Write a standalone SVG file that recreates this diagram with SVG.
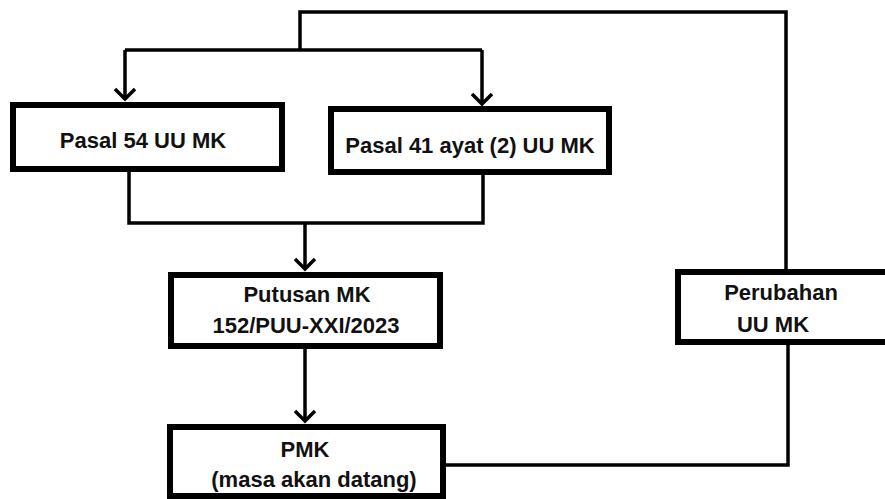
<svg xmlns="http://www.w3.org/2000/svg" width="885" height="499" viewBox="0 0 885 499">
<style>
.box{fill:#fff;stroke:#000;stroke-width:6}
.lbl{font-family:"Liberation Sans",Arial,sans-serif;font-weight:bold;font-size:22px;fill:#111;text-anchor:middle}
.con{fill:none;stroke:#000;stroke-width:3.5;stroke-linejoin:miter}
</style>
<defs>
<marker id="arr" markerUnits="userSpaceOnUse" markerWidth="24" markerHeight="24" viewBox="-14 -12 16 24" refX="0" refY="0" orient="auto" overflow="visible">
<path d="M-10,-10 L0,0 L-10,10" fill="none" stroke="#000" stroke-width="3.5"/>
</marker>
</defs>
<rect width="885" height="499" fill="#fff"/>
<g id="connectors">
<path class="con" d="M300,50 V12 H786 V269"/>
<path class="con" d="M125,50 H482"/>
<path class="con" d="M125,50 V99" marker-end="url(#arr)"/>
<path class="con" d="M482,50 V104" marker-end="url(#arr)"/>
<path class="con" d="M129,172 V223 H483 V175"/>
<path class="con" d="M305,223 V269" marker-end="url(#arr)"/>
<path class="con" d="M305,349 V421" marker-end="url(#arr)"/>
<path class="con" d="M788,345 V465 H446"/>
</g>
<g id="pasal54">
<rect class="box" x="13" y="105" width="269" height="64"/>
<text class="lbl" x="143" y="148">Pasal 54 UU MK</text>
</g>
<g id="pasal41">
<rect class="box" x="331" y="109" width="278" height="63"/>
<text class="lbl" x="470" y="153">Pasal 41 ayat (2) UU MK</text>
</g>
<g id="putusan">
<rect class="box" x="171" y="275" width="269" height="71"/>
<text class="lbl" x="307" y="302">Putusan MK</text>
<text class="lbl" x="306" y="333">152/PUU-XXI/2023</text>
</g>
<g id="pmk">
<rect class="box" x="170" y="427" width="273" height="69"/>
<text class="lbl" x="305" y="457">PMK</text>
<text class="lbl" x="314" y="487">(masa akan datang)</text>
</g>
<g id="perubahan">
<rect class="box" x="678" y="272" width="220" height="70"/>
<text class="lbl" x="781" y="300">Perubahan</text>
<text class="lbl" x="773" y="332">UU MK</text>
</g>
</svg>
